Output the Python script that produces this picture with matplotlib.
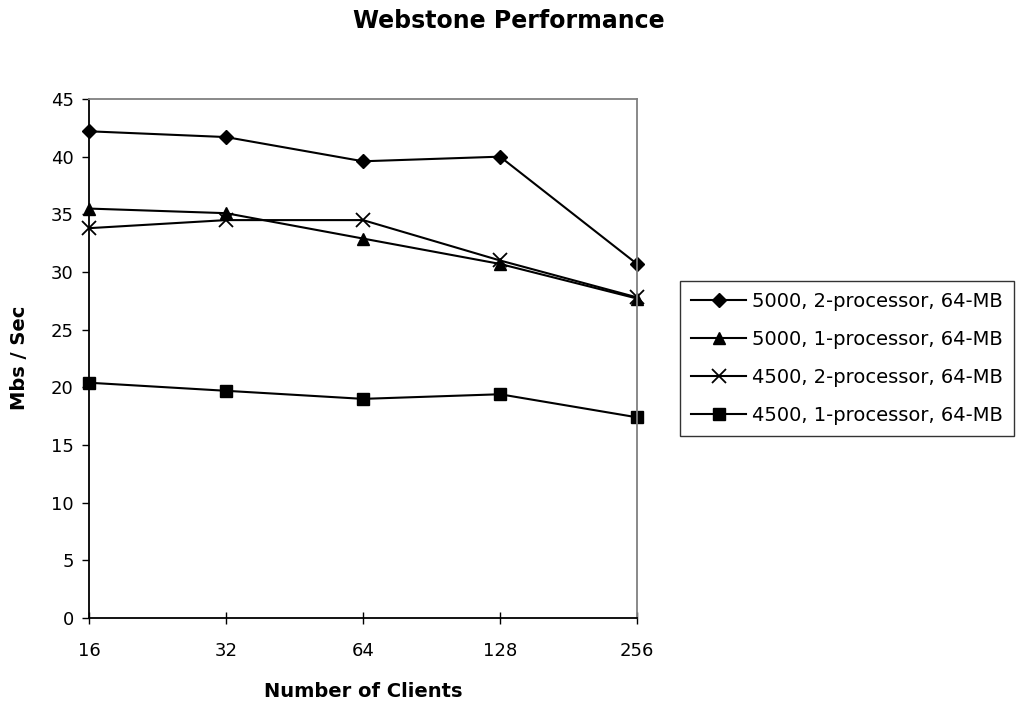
import matplotlib
matplotlib.use("Agg")
import matplotlib.pyplot as plt

plt.rcParams.update({"font.family": ["DejaVu Sans"]})

CLIENTS = ["16", "32", "64", "128", "256"]
S5000_2P = [42.2, 41.7, 39.6, 40.0, 30.7]
S5000_1P = [35.5, 35.1, 32.9, 30.7, 27.7]
S4500_2P = [33.8, 34.5, 34.5, 31.0, 27.8]
S4500_1P = [20.4, 19.7, 19.0, 19.4, 17.4]
LABELS = [
    "5000, 2-processor, 64-MB",
    "5000, 1-processor, 64-MB",
    "4500, 2-processor, 64-MB",
    "4500, 1-processor, 64-MB",
]

W, H = 1018, 704
fig = plt.figure(figsize=(W / 100, H / 100), dpi=100, facecolor="white")
# plot area in pixels: left 89, right 637, top 99, bottom 618
ax = fig.add_axes([89 / W, 1 - 618 / H, (637 - 89) / W, (618 - 99) / H])

x = list(range(len(CLIENTS)))
styles = [
    dict(marker="D", markersize=7),
    dict(marker="^", markersize=9),
    dict(marker="x", markersize=9.5, markeredgewidth=1.3),
    dict(marker="s", markersize=9),
]
for ys, lab, st in zip([S5000_2P, S5000_1P, S4500_2P, S4500_1P], LABELS, styles):
    ax.plot(x, ys, color="black", linewidth=1.5, label=lab, clip_on=False,
            markerfacecolor="black", markeredgecolor="black", **st)

ax.set_xlim(0, len(CLIENTS) - 1)
ax.set_ylim(0, 45)
ax.set_xticks(x)
ax.set_xticklabels(CLIENTS)
ax.set_yticks(range(0, 46, 5))
ax.tick_params(axis="both", labelsize=13, colors="black", width=1)
ax.tick_params(axis="x", direction="inout", length=8, pad=13)
ax.tick_params(axis="y", direction="out", length=5, pad=6)

for side in ("top", "right"):
    ax.spines[side].set_color("#808080")
    ax.spines[side].set_linewidth(1.3)
for side in ("left", "bottom"):
    ax.spines[side].set_color("black")
    ax.spines[side].set_linewidth(1.3)

fig.text(363 / W, 1 - 697 / H, "Number of Clients", fontsize=14, fontweight="bold",
         ha="center", va="baseline")
fig.text(20 / W, 1 - 358 / H, "Mbs / Sec", fontsize=14, fontweight="bold",
         ha="center", va="center", rotation=90)
fig.text(509 / W, 1 - 28 / H, "Webstone Performance", fontsize=17, fontweight="bold",
         ha="center", va="baseline")

leg = fig.legend(loc="upper left", bbox_to_anchor=(680 / W, 1 - 281 / H), fontsize=14,
                 frameon=True, fancybox=False, edgecolor="black",
                 handlelength=2.8, handletextpad=0.3, labelspacing=0.97,
                 borderpad=0.58, borderaxespad=0)
leg.get_frame().set_linewidth(1.0)

fig.savefig("out.png", dpi=100, facecolor="white")
